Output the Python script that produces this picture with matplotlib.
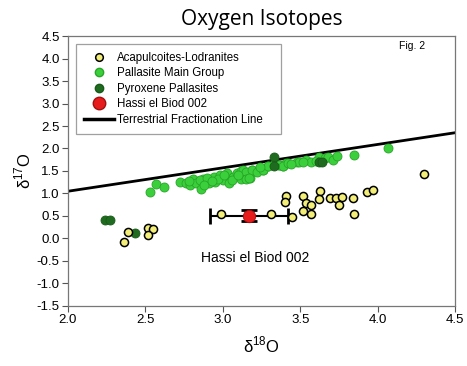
import matplotlib
matplotlib.use("Agg")
import matplotlib.pyplot as plt
from matplotlib.lines import Line2D

plt.rcParams['font.family'] = ['Liberation Sans', 'DejaVu Sans']
plt.rcParams['mathtext.fontset'] = 'custom'
plt.rcParams['mathtext.rm'] = 'Liberation Sans'

# Acapulcoites-Lodranites
aca_x = [2.36, 2.39, 2.52, 2.55, 2.52, 2.99, 3.31, 3.445, 3.41, 3.40, 3.52, 3.54, 3.57, 3.52, 3.57,
         3.63, 3.62, 3.69, 3.73, 3.77, 3.75, 3.84, 3.85, 3.93, 3.97, 4.30]
aca_y = [-0.07, 0.14, 0.24, 0.20, 0.08, 0.54, 0.54, 0.48, 0.94, 0.80, 0.95, 0.78, 0.74, 0.62, 0.55,
         1.06, 0.87, 0.91, 0.91, 0.93, 0.74, 0.91, 0.54, 1.03, 1.08, 1.43]

# Pallasite Main Group
pmg_x = [2.53, 2.57, 2.62, 2.725, 2.76, 2.79, 2.81, 2.83, 2.86, 2.875, 2.91, 2.94, 2.95, 2.98, 3.00,
         3.03, 3.04, 3.065, 3.09, 3.12, 3.14, 3.175, 3.19, 3.22, 3.26, 3.29, 3.33, 3.36, 3.39, 3.41,
         3.48, 3.13, 3.15, 3.19, 3.22, 3.26, 3.29, 3.365, 3.39, 3.42, 3.49, 3.54, 3.57, 3.62, 3.66,
         3.68, 3.71, 3.74, 3.85, 4.07, 3.12, 3.15, 3.17, 2.78, 2.85, 2.90, 2.97, 3.01, 3.06, 3.10,
         2.88, 2.93, 3.24, 3.44, 3.52, 3.60]
pmg_y = [1.03, 1.20, 1.15, 1.26, 1.23, 1.19, 1.32, 1.24, 1.09, 1.32, 1.23, 1.37, 1.26, 1.41, 1.30,
         1.45, 1.23, 1.37, 1.45, 1.51, 1.41, 1.34, 1.52, 1.51, 1.52, 1.60, 1.66, 1.63, 1.60, 1.68,
         1.71, 1.52, 1.48, 1.52, 1.48, 1.52, 1.60, 1.63, 1.60, 1.68, 1.71, 1.74, 1.71, 1.80, 1.78,
         1.82, 1.74, 1.83, 1.86, 2.01, 1.32, 1.32, 1.34, 1.28, 1.30, 1.35, 1.33, 1.40, 1.30, 1.42,
         1.18, 1.28, 1.58, 1.66, 1.69, 1.72]

# Pyroxene Pallasites
pp_x = [2.24, 2.27, 2.43, 3.33, 3.33, 3.62, 3.64]
pp_y = [0.41, 0.42, 0.12, 1.82, 1.60, 1.71, 1.70]

# Hassi el Biod 002
heb_x = [3.17]
heb_y = [0.51]
heb_xerr = [0.25]
heb_yerr = [0.12]

# Terrestrial Fractionation Line
tfl_x = [2.0, 4.5]
tfl_y = [1.05, 2.35]

yellow = '#f2ee78'
green = '#3ccf3c'
dkgreen = '#1f6b1f'
red = '#e61b1b'

fig = plt.figure(figsize=(4.67, 3.66), dpi=100)
ax = fig.add_axes([0.1456, 0.164, 0.8287, 0.7376])

ax.plot(tfl_x, tfl_y, color='black', lw=2, zorder=2)
ax.scatter(pmg_x, pmg_y, s=42, color=green, edgecolors='#26a626', linewidths=0.6, zorder=3)
ax.scatter(pp_x, pp_y, s=42, color=dkgreen, edgecolors='#185a18', linewidths=0.6, zorder=4)
ax.errorbar(heb_x, heb_y, xerr=heb_xerr, yerr=heb_yerr, fmt='none', ecolor='black',
            elinewidth=1.5, capsize=6, capthick=2, zorder=3)
ax.scatter(aca_x, aca_y, s=34, color=yellow, edgecolors='black', linewidths=1.1, zorder=5)
ax.scatter(heb_x, heb_y, s=80, color=red, edgecolors='#a01010', linewidths=0.6, zorder=6)

ax.set_xlim(2.0, 4.5)
ax.set_ylim(-1.5, 4.5)
ax.set_xticks([2.0, 2.5, 3.0, 3.5, 4.0, 4.5])
ax.set_yticks([-1.5, -1.0, -0.5, 0.0, 0.5, 1.0, 1.5, 2.0, 2.5, 3.0, 3.5, 4.0, 4.5])
ax.xaxis.set_major_formatter(matplotlib.ticker.FormatStrFormatter('%.1f'))
ax.yaxis.set_major_formatter(matplotlib.ticker.FormatStrFormatter('%.1f'))
ax.tick_params(direction='out', length=4, width=0.8, color='#555555', labelsize=9.5, pad=2)
for s in ax.spines.values():
    s.set_color('#777777')
    s.set_linewidth(0.9)

ax.set_xlabel('δ$^{18}$O', fontsize=12, labelpad=6)
ax.set_ylabel('δ$^{17}$O', fontsize=12, labelpad=2)
ax.set_title('Oxygen Isotopes', fontsize=15, family='Open Sans', pad=8)

ax.text(4.14, 4.28, 'Fig. 2', fontsize=7.5, va='center', ha='left')
ax.text(3.21, -0.43, 'Hassi el Biod 002', fontsize=10, va='center', ha='center')

handles = [
    Line2D([], [], marker='o', ls='none', markersize=5.5, markerfacecolor=yellow, markeredgecolor='black', markeredgewidth=1.1),
    Line2D([], [], marker='o', ls='none', markersize=6, markerfacecolor=green, markeredgecolor='#26a626'),
    Line2D([], [], marker='o', ls='none', markersize=6, markerfacecolor=dkgreen, markeredgecolor='#185a18'),
    Line2D([], [], marker='o', ls='none', markersize=9, markerfacecolor=red, markeredgecolor='#a01010'),
    Line2D([], [], color='black', lw=2.5),
]
labels = ['Acapulcoites-Lodranites', 'Pallasite Main Group', 'Pyroxene Pallasites',
          'Hassi el Biod 002', 'Terrestrial Fractionation Line   ']
leg = ax.legend(handles, labels, loc='upper left', bbox_to_anchor=(0.005, 0.993), fontsize=8.3,
                frameon=True, fancybox=False, edgecolor='#888888', handlelength=2.6,
                labelspacing=0.3, borderpad=0.7, handletextpad=0.3)
leg.get_frame().set_linewidth(0.9)

fig.savefig('out.png', dpi=100)
